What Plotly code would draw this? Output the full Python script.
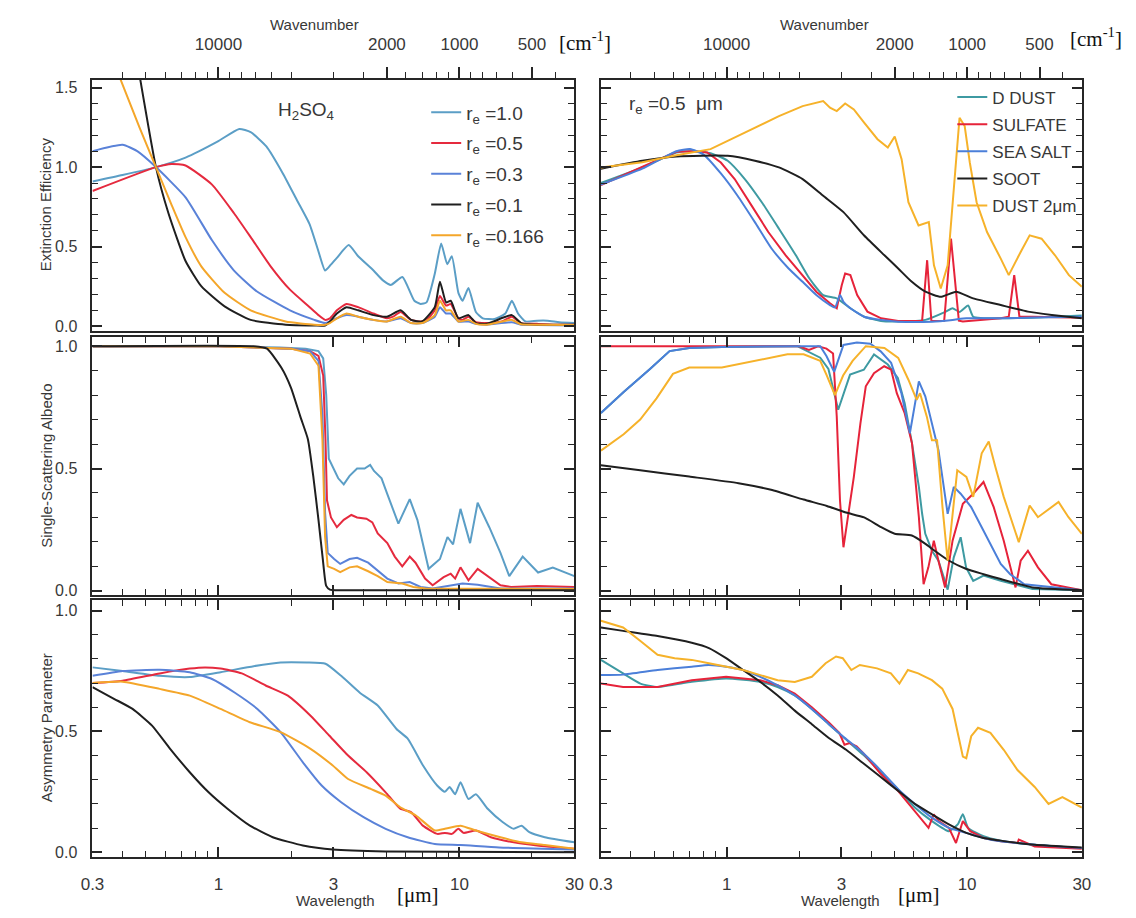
import math
import plotly.graph_objects as go

# ---------------- H2SO4, extinction efficiency ----------------
ext_r10_lam = [0.3, 0.4, 0.55, 0.73, 0.99, 1.22, 1.36, 1.58, 1.85, 2.12,
               2.39, 2.6, 2.77, 2.9, 3.1, 3.47, 3.8, 4.4, 4.8, 5.2,
               5.8, 6.5, 6.9, 7.3, 7.9, 8.4, 8.9, 9.3, 9.9, 10.3,
               10.9, 11.7, 12.5, 14.0, 15.5, 16.5, 17.5, 18.8, 21, 23.2,
               26, 30]
ext_r10_val = [0.91, 0.95, 1.0, 1.06, 1.16, 1.24, 1.22, 1.13, 0.96, 0.79,
               0.64, 0.47, 0.35, 0.38, 0.43, 0.51, 0.44, 0.35, 0.29, 0.26,
               0.31, 0.16, 0.14, 0.15, 0.33, 0.52, 0.39, 0.44, 0.21, 0.16,
               0.24, 0.09, 0.05, 0.045, 0.08, 0.16, 0.08, 0.03, 0.035, 0.035,
               0.025, 0.02]

ext_r05_lam = [0.3, 0.55, 0.64, 0.73, 0.94, 1.16, 1.36, 1.64, 1.98, 2.39,
               2.6, 2.77, 2.9, 3.1, 3.4, 3.8, 4.4, 5.0, 5.3, 5.7,
               6.3, 6.9, 7.3, 7.9, 8.3, 8.8, 9.2, 9.9, 10.3, 10.9,
               11.7, 13, 15, 16.5, 18, 21, 25, 30]
ext_r05_val = [0.85, 1.0, 1.02, 1.01, 0.89, 0.71, 0.56, 0.38, 0.23, 0.12,
               0.07, 0.04, 0.05, 0.10, 0.14, 0.12, 0.08, 0.05, 0.06, 0.09,
               0.04, 0.03, 0.04, 0.10, 0.19, 0.13, 0.14, 0.05, 0.04, 0.06,
               0.025, 0.02, 0.03, 0.06, 0.02, 0.015, 0.01, 0.01]

ext_r03_lam = [0.3, 0.4, 0.46, 0.55, 0.73, 0.94, 1.16, 1.44, 1.98, 2.5,
               2.77, 2.9, 3.1, 3.4, 3.8, 4.4, 5.0, 5.7, 6.3, 7.0,
               7.9, 8.3, 8.8, 9.2, 9.9, 10.9, 11.7, 13, 16.5, 18,
               21, 30]
ext_r03_val = [1.10, 1.14, 1.10, 1.0, 0.81, 0.54, 0.35, 0.22, 0.10, 0.04,
               0.02, 0.03, 0.05, 0.07, 0.06, 0.04, 0.03, 0.05, 0.02, 0.02,
               0.06, 0.12, 0.08, 0.08, 0.03, 0.03, 0.015, 0.01, 0.025, 0.01,
               0.008, 0.005]

ext_r01_lam = [0.47, 0.55, 0.62, 0.73, 0.85, 1.06, 1.36, 1.9, 2.5, 2.77,
               2.9, 3.1, 3.4, 3.8, 4.4, 5.0, 5.7, 6.3, 7.0, 7.9,
               8.3, 8.8, 9.2, 9.9, 10.9, 11.7, 13, 16.5, 18, 21,
               30]
ext_r01_val = [1.58, 1.0, 0.71, 0.41, 0.25, 0.125, 0.04, 0.01, 0.005, 0.005,
               0.03, 0.08, 0.12, 0.10, 0.07, 0.06, 0.10, 0.04, 0.03, 0.12,
               0.28, 0.15, 0.16, 0.05, 0.07, 0.02, 0.015, 0.07, 0.02, 0.01,
               0.01]

ext_r0166_lam = [0.39, 0.47, 0.55, 0.64, 0.73, 0.85, 1.06, 1.36, 1.9, 2.5,
                 2.77, 2.9, 3.1, 3.4, 3.8, 4.4, 5.0, 5.7, 6.3, 7.0,
                 7.9, 8.3, 8.8, 9.2, 9.9, 10.9, 11.7, 13, 16.5, 18,
                 21, 30]
ext_r0166_val = [1.56, 1.25, 1.0, 0.76, 0.56, 0.375, 0.21, 0.10, 0.03, 0.01,
                 0.01, 0.02, 0.05, 0.08, 0.06, 0.04, 0.03, 0.06, 0.02, 0.02,
                 0.07, 0.16, 0.10, 0.10, 0.03, 0.04, 0.015, 0.01, 0.04, 0.012,
                 0.01, 0.008]

# ---------------- H2SO4, single-scattering albedo ----------------
ssa_r10_lam = [0.3, 1.0, 1.8, 2.3, 2.6, 2.72, 2.8, 2.87, 3.14, 3.31,
               3.5, 3.76, 4.04, 4.26, 4.42, 4.75, 5.02, 5.58, 6.22, 6.69,
               7.45, 8.3, 8.92, 9.41, 10.1, 11.07, 11.9, 13.3, 14.8, 16.1,
               18.3, 21.2, 24.4, 30]
ssa_r10_val = [1.0, 1.0, 0.995, 0.99, 0.98, 0.95, 0.80, 0.54, 0.46, 0.435,
               0.47, 0.50, 0.50, 0.515, 0.49, 0.46, 0.395, 0.275, 0.375, 0.29,
               0.09, 0.13, 0.22, 0.19, 0.335, 0.195, 0.36, 0.26, 0.155, 0.06,
               0.14, 0.075, 0.095, 0.06]

ssa_r05_lam = [0.3, 1.0, 2.0, 2.4, 2.6, 2.72, 2.78, 2.82, 2.93, 3.10,
               3.31, 3.56, 3.76, 4.11, 4.35, 4.58, 5.02, 5.39, 5.79, 6.22,
               6.57, 7.2, 7.74, 8.6, 9.2, 9.6, 10.1, 10.9, 11.9, 13.3,
               14.8, 16.4, 21, 30]
ssa_r05_val = [1.0, 1.0, 0.99, 0.98, 0.96, 0.88, 0.62, 0.37, 0.30, 0.26,
               0.29, 0.31, 0.30, 0.295, 0.28, 0.235, 0.195, 0.14, 0.10, 0.14,
               0.115, 0.05, 0.023, 0.056, 0.07, 0.05, 0.096, 0.043, 0.09, 0.056,
               0.023, 0.016, 0.02, 0.016]

ssa_r03_lam = [0.3, 1.0, 2.0, 2.4, 2.6, 2.7, 2.77, 2.84, 3.02, 3.2,
               3.5, 3.76, 4.18, 4.5, 5.02, 5.58, 6.22, 6.9, 7.74, 10.3,
               11.9, 14.8, 30]
ssa_r03_val = [1.0, 1.0, 0.99, 0.98, 0.94, 0.72, 0.32, 0.155, 0.13, 0.11,
               0.13, 0.135, 0.115, 0.09, 0.05, 0.03, 0.036, 0.016, 0.01, 0.03,
               0.025, 0.01, 0.01]

ssa_r01_lam = [0.3, 1.4, 1.59, 1.83, 2.0, 2.19, 2.35, 2.48, 2.6, 2.71,
               2.8, 2.9, 3.2, 30]
ssa_r01_val = [1.0, 1.0, 0.99, 0.91, 0.83, 0.71, 0.62, 0.46, 0.29, 0.13,
               0.02, 0.005, 0.002, 0.002]

ssa_r0166_lam = [0.3, 1.0, 2.0, 2.4, 2.6, 2.7, 2.77, 2.84, 3.02, 3.2,
                 3.5, 3.76, 4.18, 4.58, 5.02, 5.79, 6.44, 7.2, 30]
ssa_r0166_val = [1.0, 1.0, 0.99, 0.97, 0.92, 0.62, 0.22, 0.10, 0.09, 0.076,
                 0.096, 0.10, 0.08, 0.06, 0.036, 0.03, 0.016, 0.01, 0.007]

# ---------------- H2SO4, asymmetry parameter ----------------
asy_r10_lam = [0.3, 0.40, 0.57, 0.76, 1.02, 1.40, 1.81, 2.32, 2.78, 3.23,
               3.86, 4.58, 5.48, 6.1, 7.05, 8.1, 8.7, 9.1, 9.6, 10.1,
               10.9, 11.7, 13.1, 15.1, 16.8, 18.1, 19.5, 22.6, 30]
asy_r10_val = [0.765, 0.75, 0.73, 0.725, 0.745, 0.77, 0.785, 0.785, 0.78, 0.73,
               0.66, 0.607, 0.51, 0.47, 0.36, 0.275, 0.25, 0.27, 0.24, 0.29,
               0.22, 0.24, 0.18, 0.125, 0.097, 0.11, 0.083, 0.062, 0.041]

asy_r05_lam = [0.3, 0.40, 0.57, 0.76, 0.88, 1.02, 1.25, 1.57, 1.94, 2.41,
               2.88, 3.45, 4.13, 4.94, 5.68, 6.31, 7.05, 8.1, 8.7, 9.3,
               9.9, 10.4, 11.7, 13.5, 16.8, 21, 30]
asy_r05_val = [0.70, 0.71, 0.74, 0.76, 0.765, 0.76, 0.74, 0.69, 0.648, 0.565,
               0.483, 0.40, 0.33, 0.248, 0.18, 0.165, 0.11, 0.076, 0.08, 0.076,
               0.097, 0.08, 0.09, 0.062, 0.041, 0.028, 0.014]

asy_r03_lam = [0.3, 0.40, 0.57, 0.76, 0.94, 1.17, 1.45, 1.81, 2.24, 2.68,
               3.23, 4.0, 4.94, 6.1, 7.9, 10.1, 14.6, 30]
asy_r03_val = [0.73, 0.75, 0.755, 0.745, 0.717, 0.66, 0.593, 0.497, 0.372, 0.276,
               0.207, 0.145, 0.097, 0.062, 0.034, 0.03, 0.02, 0.011]

asy_r01_lam = [0.3, 0.37, 0.44, 0.53, 0.63, 0.76, 0.91, 1.09, 1.35, 1.68,
               2.24, 2.98, 4.93, 30]
asy_r01_val = [0.683, 0.634, 0.593, 0.524, 0.428, 0.331, 0.248, 0.18, 0.11, 0.062,
               0.028, 0.011, 0.003, 0.0]

asy_r0166_lam = [0.3, 0.40, 0.57, 0.76, 1.02, 1.35, 1.81, 2.41, 2.98, 3.45,
                 4.28, 4.94, 5.68, 6.6, 7.9, 8.7, 10.1, 11.7, 14.8, 18.1,
                 22.6, 30]
asy_r0166_val = [0.70, 0.706, 0.676, 0.648, 0.593, 0.538, 0.497, 0.428, 0.359, 0.303,
                 0.262, 0.234, 0.186, 0.152, 0.09, 0.097, 0.11, 0.09, 0.062, 0.041,
                 0.03, 0.014]

# ---------------- aerosol types (r_e = 0.5 um), extinction ----------------
ext_ddust_lam = [0.3, 0.446, 0.618, 0.728, 0.857, 1.01, 1.19, 1.40, 1.65, 1.94,
                 2.21, 2.52, 2.87, 3.27, 3.73, 4.39, 5.17, 6.71, 8.16, 8.7,
                 9.3, 10.1, 10.6, 13.8, 18.7, 30]
ext_ddust_val = [0.90, 0.998, 1.092, 1.1, 1.088, 1.04, 0.925, 0.779, 0.613, 0.446,
                 0.30, 0.196, 0.175, 0.113, 0.06, 0.033, 0.03, 0.04, 0.092, 0.113,
                 0.09, 0.13, 0.06, 0.05, 0.054, 0.067]

ext_sulf_lam = [0.3, 0.446, 0.618, 0.728, 0.83, 0.946, 1.08, 1.27, 1.49, 1.76,
                2.07, 2.36, 2.69, 2.87, 3.01, 3.11, 3.27, 3.49, 3.85, 4.39,
                5.17, 6.28, 6.5, 6.82, 7.1, 7.4, 8.03, 8.57, 9.24, 9.6,
                13.8, 14.9, 15.7, 16.5, 18.7, 30]
ext_sulf_val = [0.887, 1.004, 1.096, 1.1, 1.092, 1.029, 0.925, 0.758, 0.592, 0.446,
                0.321, 0.217, 0.144, 0.113, 0.258, 0.331, 0.321, 0.196, 0.092, 0.05,
                0.033, 0.033, 0.035, 0.415, 0.035, 0.033, 0.035, 0.55, 0.035, 0.03,
                0.05, 0.06, 0.321, 0.06, 0.06, 0.054]

ext_salt_lam = [0.3, 0.446, 0.618, 0.704, 0.80, 0.946, 1.11, 1.31, 1.54, 1.81,
                2.07, 2.36, 2.69, 2.82, 2.96, 3.06, 3.27, 3.73, 4.39, 5.17,
                7.16, 8.7, 9.93, 13.8, 18.7, 30]
ext_salt_val = [0.89, 0.99, 1.1, 1.113, 1.08, 0.96, 0.82, 0.654, 0.487, 0.363,
                0.279, 0.196, 0.133, 0.117, 0.196, 0.154, 0.113, 0.06, 0.04, 0.029,
                0.029, 0.04, 0.05, 0.05, 0.055, 0.06]

ext_soot_lam = [0.3, 0.446, 0.618, 1.01, 1.31, 1.65, 2.07, 2.52, 3.06, 3.73,
                4.53, 5.17, 5.89, 6.71, 7.77, 9.0, 10.6, 13.8, 17.9, 22.5,
                30]
ext_soot_val = [0.99, 1.04, 1.067, 1.071, 1.04, 0.998, 0.925, 0.82, 0.717, 0.57,
                0.446, 0.363, 0.279, 0.217, 0.185, 0.217, 0.175, 0.133, 0.092, 0.071,
                0.05]

ext_dust2_lam = [0.3, 0.446, 0.618, 0.857, 1.19, 1.65, 2.07, 2.52, 2.69, 2.87,
                 3.11, 3.38, 3.73, 4.24, 4.68, 5.0, 5.34, 5.70, 6.28, 6.93,
                 7.28, 7.77, 8.3, 8.85, 9.3, 9.77, 10.26, 10.95, 12.1, 13.8,
                 14.9, 16.7, 18.2, 20.4, 23.2, 26.5, 30]
ext_dust2_val = [0.998, 1.03, 1.075, 1.113, 1.217, 1.32, 1.383, 1.415, 1.373, 1.352,
                 1.40, 1.362, 1.279, 1.175, 1.123, 1.192, 1.05, 0.779, 0.633, 0.654,
                 0.383, 0.237, 0.383, 0.925, 1.31, 1.258, 1.029, 0.779, 0.592, 0.425,
                 0.321, 0.467, 0.571, 0.55, 0.446, 0.321, 0.248]

# ---------------- aerosol types, single-scattering albedo ----------------
ssa_ddust_lam = [0.3, 0.373, 0.48, 0.579, 0.699, 0.955, 1.966, 2.45, 2.65, 2.82,
                 2.91, 3.26, 3.72, 4.1, 4.68, 5.15, 5.5, 5.9, 6.3, 6.5,
                 6.7, 7.14, 7.6, 8.3, 8.8, 9.4, 9.9, 10.6, 11.7, 13.8,
                 18.7, 30]
ssa_ddust_val = [0.727, 0.813, 0.907, 0.98, 0.993, 0.997, 1.0, 0.953, 0.907, 0.787,
                 0.74, 0.884, 0.904, 0.966, 0.925, 0.87, 0.767, 0.603, 0.425, 0.315,
                 0.233, 0.164, 0.123, 0.005, 0.137, 0.219, 0.096, 0.041, 0.062, 0.041,
                 0.007, 0.002]

ssa_sulf_lam = [0.3, 2.0, 2.2, 2.4, 2.6, 2.77, 2.87, 2.96, 3.06, 3.21,
                3.38, 3.6, 3.79, 4.1, 4.52, 4.83, 5.1, 5.5, 5.9, 6.3,
                6.59, 6.9, 7.27, 7.6, 8.1, 8.7, 9.6, 10.6, 11.7, 12.9,
                14.2, 15.9, 16.7, 17.9, 19.7, 22.4, 30]
ssa_sulf_val = [1.0, 1.0, 0.985, 1.0, 0.99, 0.97, 0.712, 0.37, 0.178, 0.315,
                0.466, 0.685, 0.836, 0.89, 0.918, 0.904, 0.808, 0.726, 0.603, 0.301,
                0.027, 0.096, 0.205, 0.123, 0.014, 0.205, 0.356, 0.397, 0.445, 0.342,
                0.205, 0.014, 0.123, 0.164, 0.096, 0.027, 0.002]

ssa_salt_lam = [0.3, 0.373, 0.48, 0.579, 0.699, 0.955, 1.966, 2.45, 2.6, 2.8,
                3.06, 3.48, 3.96, 4.37, 4.83, 5.33, 5.78, 6.3, 6.7, 7.14,
                7.6, 8.3, 8.8, 9.4, 10.4, 11.5, 12.7, 13.8, 15.1, 17.3,
                30]
ssa_salt_val = [0.727, 0.813, 0.907, 0.98, 0.993, 0.997, 1.0, 1.0, 0.96, 0.895,
                1.005, 1.015, 1.01, 0.979, 0.932, 0.808, 0.644, 0.856, 0.795, 0.685,
                0.575, 0.315, 0.425, 0.397, 0.342, 0.26, 0.178, 0.11, 0.068, 0.027,
                0.002]

ssa_soot_lam = [0.3, 0.437, 0.699, 1.12, 1.53, 2.09, 2.61, 3.14, 3.73, 4.39,
                5.0, 5.89, 6.71, 7.16, 8.42, 9.93, 11.7, 13.8, 18.7, 30]
ssa_soot_val = [0.513, 0.493, 0.467, 0.44, 0.413, 0.373, 0.347, 0.32, 0.30, 0.26,
                0.233, 0.226, 0.192, 0.171, 0.123, 0.089, 0.068, 0.048, 0.014, 0.003]

ssa_dust2_lam = [0.3, 0.373, 0.437, 0.511, 0.598, 0.699, 0.955, 1.31, 1.79, 2.09,
                 2.45, 2.61, 2.82, 3.05, 3.34, 3.79, 4.53, 5.17, 5.7, 6.17,
                 6.37, 6.8, 7.14, 7.5, 7.9, 8.3, 9.1, 9.93, 10.6, 11.5,
                 12.3, 13.1, 14.2, 16.4, 18.2, 19.7, 24.0, 26.4, 30]
ssa_dust2_val = [0.573, 0.64, 0.70, 0.787, 0.887, 0.913, 0.913, 0.94, 0.967, 0.967,
                 0.94, 0.88, 0.80, 0.88, 0.94, 1.0, 0.993, 0.952, 0.863, 0.781,
                 0.808, 0.712, 0.616, 0.616, 0.342, 0.123, 0.493, 0.466, 0.384, 0.562,
                 0.61, 0.507, 0.384, 0.199, 0.349, 0.301, 0.363, 0.301, 0.233]

# ---------------- aerosol types, asymmetry parameter ----------------
asy_ddust_lam = [0.3, 0.371, 0.438, 0.516, 0.716, 0.995, 1.38, 1.63, 1.92, 2.26,
                 2.66, 3.14, 3.70, 4.36, 5.14, 6.06, 7.14, 8.4, 9.14, 9.6,
                 10.1, 11.7, 13.8, 19.1, 30]
asy_ddust_val = [0.796, 0.74, 0.698, 0.684, 0.705, 0.719, 0.705, 0.684, 0.649, 0.593,
                 0.53, 0.466, 0.403, 0.333, 0.263, 0.185, 0.129, 0.087, 0.115, 0.157,
                 0.101, 0.066, 0.048, 0.031, 0.017]

asy_sulf_lam = [0.3, 0.371, 0.516, 0.716, 0.995, 1.38, 1.63, 1.92, 2.26, 2.66,
                2.94, 3.09, 3.25, 3.47, 3.70, 4.36, 5.14, 6.06, 6.91, 7.26,
                7.63, 8.4, 8.99, 9.6, 10.3, 11.7, 13.8, 16.2, 16.4, 19.1,
                30]
asy_sulf_val = [0.698, 0.684, 0.684, 0.712, 0.726, 0.712, 0.691, 0.656, 0.60, 0.537,
                0.494, 0.445, 0.452, 0.438, 0.41, 0.326, 0.256, 0.171, 0.101, 0.157,
                0.129, 0.101, 0.038, 0.129, 0.087, 0.059, 0.045, 0.038, 0.052, 0.024,
                0.014]

asy_salt_lam = [0.3, 0.371, 0.516, 0.716, 0.844, 0.995, 1.17, 1.38, 1.63, 1.92,
                2.26, 2.66, 3.04, 3.70, 4.36, 5.14, 6.06, 7.14, 8.4, 9.92,
                11.7, 13.8, 19.1, 30]
asy_salt_val = [0.733, 0.735, 0.754, 0.768, 0.775, 0.768, 0.754, 0.726, 0.691, 0.649,
                0.593, 0.53, 0.48, 0.41, 0.34, 0.263, 0.20, 0.143, 0.101, 0.08,
                0.059, 0.045, 0.031, 0.017]

asy_soot_lam = [0.3, 0.371, 0.516, 0.716, 0.844, 0.995, 1.17, 1.38, 1.63, 1.92,
                2.26, 2.66, 3.14, 3.70, 4.36, 5.14, 6.06, 7.14, 8.4, 9.92,
                11.7, 13.8, 16.2, 19.1, 30]
asy_soot_val = [0.93, 0.916, 0.895, 0.867, 0.845, 0.803, 0.754, 0.705, 0.649, 0.586,
                0.53, 0.473, 0.424, 0.368, 0.312, 0.256, 0.20, 0.157, 0.115, 0.08,
                0.059, 0.048, 0.038, 0.031, 0.02]

asy_dust2_lam = [0.3, 0.371, 0.438, 0.516, 0.608, 0.716, 0.844, 0.995, 1.17, 1.38,
                 1.63, 1.92, 2.26, 2.58, 2.85, 3.04, 3.30, 3.58, 4.22, 4.82,
                 5.23, 5.67, 6.26, 7.14, 7.88, 8.7, 9.14, 9.6, 9.92, 10.4,
                 11.1, 12.5, 14.2, 16.2, 19.1, 21.8, 24.9, 28.4, 30]
asy_dust2_val = [0.958, 0.93, 0.874, 0.817, 0.803, 0.796, 0.782, 0.768, 0.754, 0.733,
                 0.712, 0.705, 0.726, 0.782, 0.81, 0.803, 0.754, 0.775, 0.761, 0.74,
                 0.698, 0.754, 0.74, 0.712, 0.677, 0.593, 0.494, 0.396, 0.389, 0.48,
                 0.515, 0.494, 0.424, 0.34, 0.27, 0.20, 0.228, 0.20, 0.185]

# ---------------- axis ticks ----------------
wl_major = [0.3, 1, 3, 10, 30]
wl_labels = ["0.3", "1", "3", "10", "30"]
wl_minor = [0.4, 0.5, 0.6, 0.7, 0.8, 0.9, 2, 4, 5, 6, 7, 8, 9, 20]
wn_major = [10000, 2000, 1000, 500]
wn_minor = [20000, 9000, 8000, 7000, 6000, 900, 800, 700, 600, 400]
wn_minor_wl = [0.4, 0.6, 0.7, 0.8, 0.9, 2, 3, 4, 6, 7, 8, 9]

# ---------------- styling ----------------
W, H = 1136, 918
FONT = "Liberation Sans, Arial, sans-serif"
SERIF = "Liberation Serif, Times New Roman, serif"
INK = "#262626"
TXT = "#383838"

C_R10, C_R05, C_R03, C_R01, C_R0166 = "#5b9ec6", "#e52a3e", "#5a82d8", "#1f1f1f", "#f4a62a"
C_DDUST, C_SULF, C_SALT, C_SOOT, C_DUST2 = "#3e9aa2", "#e6233a", "#4b7fd9", "#1f1f1f", "#f6b22a"

LEFT = (82, 573)
RIGHT = (600, 1090)
ROWS = [(80, 333), (339, 598), (603, 862)]
YRANGES = [[-0.031, 1.55], [-0.016, 1.037], [-0.021, 1.045]]
XRANGE = [math.log10(0.3), math.log10(30)]

fig = go.Figure()


def sfx(panel):
    return "" if panel == 1 else str(panel)


def curve(lam, val, color, panel, name=None, legend="legend", smooth=True, width=2.0):
    kw = dict(showlegend=False)
    if name is not None:
        kw = dict(showlegend=True, legend=legend, legendgroup=name, name=name)
    line = dict(color=color, width=width)
    if smooth:
        line.update(shape="spline", smoothing=0.5)
    fig.add_trace(go.Scatter(
        x=lam, y=val, mode="lines", line=line,
        xaxis="x" + sfx(panel), yaxis="y" + sfx(panel),
        hoverinfo="skip", **kw))


# H2SO4 panels (left column)
curve(ext_r10_lam, ext_r10_val, C_R10, 1, "r<sub>e</sub> =1.0")
curve(ext_r05_lam, ext_r05_val, C_R05, 1, "r<sub>e</sub> =0.5")
curve(ext_r03_lam, ext_r03_val, C_R03, 1, "r<sub>e</sub> =0.3")
curve(ext_r01_lam, ext_r01_val, C_R01, 1, "r<sub>e</sub> =0.1")
curve(ext_r0166_lam, ext_r0166_val, C_R0166, 1, "r<sub>e</sub> =0.166")

curve(ssa_r10_lam, ssa_r10_val, C_R10, 3, smooth=False)
curve(ssa_r05_lam, ssa_r05_val, C_R05, 3, smooth=False)
curve(ssa_r03_lam, ssa_r03_val, C_R03, 3, smooth=False)
curve(ssa_r0166_lam, ssa_r0166_val, C_R0166, 3, smooth=False)
curve(ssa_r01_lam, ssa_r01_val, C_R01, 3)

curve(asy_r10_lam, asy_r10_val, C_R10, 5)
curve(asy_r05_lam, asy_r05_val, C_R05, 5)
curve(asy_r03_lam, asy_r03_val, C_R03, 5)
curve(asy_r01_lam, asy_r01_val, C_R01, 5)
curve(asy_r0166_lam, asy_r0166_val, C_R0166, 5)

# aerosol-type panels (right column)
curve(ext_ddust_lam, ext_ddust_val, C_DDUST, 2, "D DUST", "legend2")
curve(ext_sulf_lam, ext_sulf_val, C_SULF, 2, "SULFATE", "legend2", smooth=False)
curve(ext_salt_lam, ext_salt_val, C_SALT, 2, "SEA SALT", "legend2")
curve(ext_soot_lam, ext_soot_val, C_SOOT, 2, "SOOT", "legend2")
curve(ext_dust2_lam, ext_dust2_val, C_DUST2, 2, "DUST 2\u03bcm", "legend2", smooth=False)

curve(ssa_ddust_lam, ssa_ddust_val, C_DDUST, 4, smooth=False)
curve(ssa_sulf_lam, ssa_sulf_val, C_SULF, 4, smooth=False)
curve(ssa_salt_lam, ssa_salt_val, C_SALT, 4, smooth=False)
curve(ssa_soot_lam, ssa_soot_val, C_SOOT, 4)
curve(ssa_dust2_lam, ssa_dust2_val, C_DUST2, 4, smooth=False)

curve(asy_ddust_lam, asy_ddust_val, C_DDUST, 6)
curve(asy_sulf_lam, asy_sulf_val, C_SULF, 6, smooth=False)
curve(asy_salt_lam, asy_salt_val, C_SALT, 6)
curve(asy_soot_lam, asy_soot_val, C_SOOT, 6)
curve(asy_dust2_lam, asy_dust2_val, C_DUST2, 6, smooth=False)

layout_axes = {}
for panel in range(1, 7):
    row, col = (panel - 1) // 2, (panel - 1) % 2
    xd = LEFT if col == 0 else RIGHT
    yd = ROWS[row]
    base = dict(showline=True, linecolor=INK, linewidth=2, showgrid=False,
                zeroline=False, tickcolor=INK, tickwidth=1.5,
                tickfont=dict(family=FONT, size=17, color=TXT))
    xa = dict(base, type="log", range=XRANGE, domain=[xd[0] / W, xd[1] / W],
              anchor="y" + sfx(panel))
    if row == 0:
        xa.update(side="top", mirror=True, tickmode="array",
                  tickvals=[1e4 / w for w in wn_major],
                  ticktext=[str(w) for w in wn_major],
                  ticks="outside", ticklen=11, ticklabelstandoff=10,
                  minor=dict(tickmode="array",
                             tickvals=sorted([1e4 / w for w in wn_minor] + wn_minor_wl),
                             ticks="outside", ticklen=6, tickcolor=INK, tickwidth=1.3))
    else:
        xa.update(mirror="ticks", ticks="inside", ticklen=10,
                  minor=dict(tickmode="array", tickvals=wl_minor,
                             ticks="inside", ticklen=6, tickcolor=INK, tickwidth=1.3))
        if row == 2:
            xa.update(tickmode="array", tickvals=wl_major, ticktext=wl_labels,
                      ticklabelstandoff=10)
        else:
            xa.update(tickmode="array", tickvals=wl_major, showticklabels=False)
    yt = [0, 0.5, 1.0, 1.5] if row == 0 else [0, 0.5, 1.0]
    ya = dict(base, range=YRANGES[row], domain=[1 - yd[1] / H, 1 - yd[0] / H],
              anchor="x" + sfx(panel), mirror="ticks", ticks="inside", ticklen=10,
              tickmode="array", tickvals=yt,
              minor=dict(dtick=0.1, tick0=0, ticks="inside", ticklen=6,
                         tickcolor=INK, tickwidth=1.3))
    if col == 0:
        ya.update(ticktext=["%.1f" % v for v in yt], ticklabelstandoff=10,
                  tickfont=dict(family=FONT, size=16, color=TXT))
    else:
        ya.update(showticklabels=False)
    layout_axes["xaxis" + sfx(panel)] = xa
    layout_axes["yaxis" + sfx(panel)] = ya

annots = []


def note(text, x, y, size=16, color=TXT, family=FONT, angle=0, xanchor="center"):
    annots.append(dict(text=text, x=x / W, y=1 - y / H, xref="paper", yref="paper",
                       showarrow=False, textangle=angle, xanchor=xanchor,
                       yanchor="middle", font=dict(family=family, size=size, color=color)))


note("Extinction Efficiency", 35, 205, size=15, angle=-90)
note("Single-Scattering Albedo", 35, 468, size=15, angle=-90)
note("Asymmetry Parameter", 35, 732, size=15, angle=-90)
note("Wavenumber", 308, 25, size=15)
note("Wavenumber", 828, 25, size=15)
note("[cm<sup>-1</sup>]", 584, 42, size=21, color="#111", family=SERIF)
note("[cm<sup>-1</sup>]", 1104, 38, size=21, color="#111", family=SERIF)
note("Wavelength", 330, 905, size=15)
note("Wavelength", 844, 905, size=15)
note("[\u03bcm]", 414, 900, size=21, color="#111", family=SERIF)
note("[\u03bcm]", 924, 900, size=21, color="#111", family=SERIF)
note("H<sub>2</sub>SO<sub>4</sub>", 300, 112, size=19)
note("r<sub>e</sub> =0.5  \u03bcm", 627, 106, size=19, xanchor="left")

fig.update_layout(
    width=W, height=H, margin=dict(l=0, r=0, t=0, b=0),
    paper_bgcolor="white", plot_bgcolor="white",
    font=dict(family=FONT, color=TXT),
    annotations=annots,
    legend=dict(x=422 / W, y=1 - 94 / H, xanchor="left", yanchor="top",
                bgcolor="rgba(0,0,0,0)", font=dict(family=FONT, size=19, color=TXT),
                tracegroupgap=3, traceorder="grouped"),
    legend2=dict(x=958 / W, y=1 - 80 / H, xanchor="left", yanchor="top",
                 bgcolor="rgba(0,0,0,0)", font=dict(family=FONT, size=17, color=TXT),
                 tracegroupgap=2, traceorder="grouped"),
    **layout_axes,
)

fig.write_html("out.html")
